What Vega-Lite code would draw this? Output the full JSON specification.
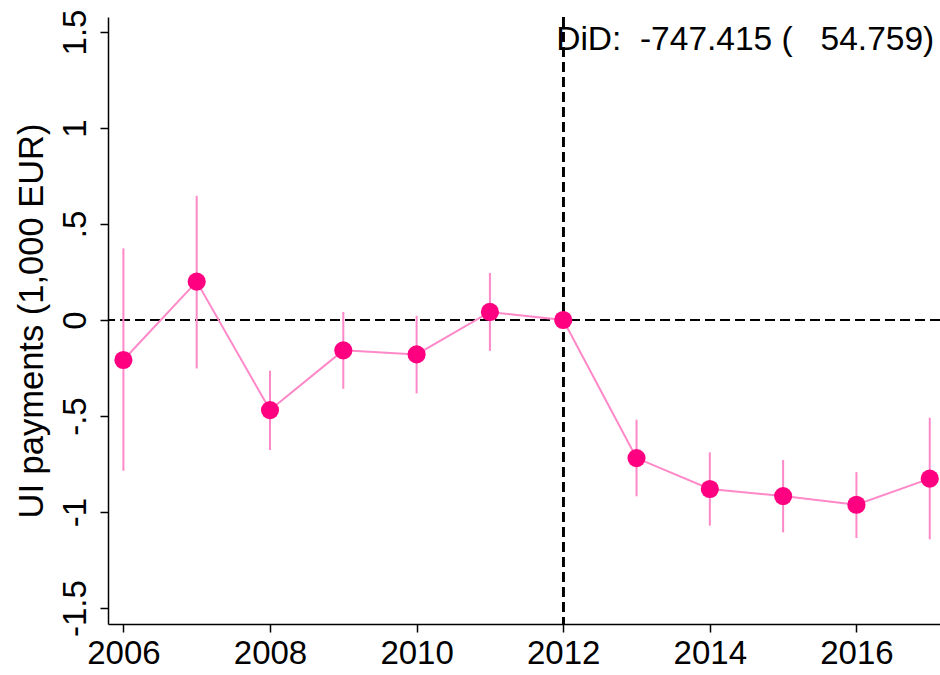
{
  "$schema": "https://vega.github.io/schema/vega-lite/v6.json",
  "width": 832,
  "height": 607,
  "autosize": {"type": "none"},
  "padding": {"left": 108, "top": 17, "right": 0, "bottom": 51},
  "background": "white",
  "config": {
    "view": {"stroke": null},
    "font": "Liberation Sans",
    "axis": {
      "grid": false,
      "domainColor": "black",
      "domainWidth": 1.5,
      "tickColor": "black",
      "tickWidth": 1.5,
      "tickSize": 8,
      "labelFont": "Liberation Sans",
      "labelFontSize": 33,
      "labelColor": "black",
      "titleFont": "Liberation Sans",
      "titleFontSize": 34.5,
      "titleFontWeight": "normal",
      "titleColor": "black"
    }
  },
  "data": {
    "values": [
      {"year": 2006, "est": -0.208, "lo": -0.785, "hi": 0.373},
      {"year": 2007, "est": 0.2, "lo": -0.252, "hi": 0.647},
      {"year": 2008, "est": -0.469, "lo": -0.677, "hi": -0.264},
      {"year": 2009, "est": -0.158, "lo": -0.358, "hi": 0.042},
      {"year": 2010, "est": -0.179, "lo": -0.382, "hi": 0.022},
      {"year": 2011, "est": 0.042, "lo": -0.161, "hi": 0.245},
      {"year": 2012, "est": 0, "lo": null, "hi": null},
      {"year": 2013, "est": -0.719, "lo": -0.918, "hi": -0.519},
      {"year": 2014, "est": -0.88, "lo": -1.071, "hi": -0.689},
      {"year": 2015, "est": -0.917, "lo": -1.106, "hi": -0.729},
      {"year": 2016, "est": -0.962, "lo": -1.135, "hi": -0.792},
      {"year": 2017, "est": -0.826, "lo": -1.142, "hi": -0.509}
    ]
  },
  "encoding": {
    "x": {
      "field": "year",
      "type": "quantitative",
      "scale": {"domain": [2005.79, 2017.14], "nice": false, "zero": false},
      "axis": {
        "title": null,
        "values": [2006, 2008, 2010, 2012, 2014, 2016],
        "format": "d",
        "labelPadding": 5,
        "labelFlush": false,
        "labelOverlap": false
      }
    }
  },
  "layer": [
    {
      "mark": {"type": "rule", "color": "black", "strokeWidth": 2, "strokeDash": [10, 5]},
      "encoding": {"y": {"datum": 0, "type": "quantitative"}, "x": null}
    },
    {
      "mark": {"type": "rule", "color": "black", "strokeWidth": 2, "strokeDash": [10, 5]},
      "encoding": {"x": {"datum": 2012, "type": "quantitative"}}
    },
    {
      "transform": [{"filter": "datum.lo != null"}],
      "mark": {"type": "rule", "color": "#ff88c8", "strokeWidth": 2},
      "encoding": {
        "y": {
          "field": "lo",
          "type": "quantitative",
          "scale": {"domain": [-1.583, 1.578], "nice": false, "zero": false},
          "axis": {
            "title": "UI payments (1,000 EUR)",
            "values": [-1.5, -1, -0.5, 0, 0.5, 1, 1.5],
            "labelExpr": "replace(toString(datum.value), '0.', '.')",
            "labelAngle": 270,
            "labelAlign": "center",
            "labelBaseline": "bottom",
            "labelPadding": 8,
            "labelFlush": false,
            "labelOverlap": false,
            "titlePadding": 10
          }
        },
        "y2": {"field": "hi"}
      }
    },
    {
      "mark": {"type": "line", "color": "#ff88c8", "strokeWidth": 2},
      "encoding": {"y": {"field": "est", "type": "quantitative"}}
    },
    {
      "mark": {"type": "point", "filled": true, "shape": "circle", "color": "#ff0080", "opacity": 1, "size": 330},
      "encoding": {"y": {"field": "est", "type": "quantitative"}}
    },
    {
      "data": {"values": [{"year": 2012, "ypos": 1.406, "label": "DiD:\u00a0 -747.415 (\u00a0\u00a0 54.759)"}]},
      "mark": {"type": "text", "align": "left", "baseline": "alphabetic", "dx": -7, "fontSize": 33.5, "font": "Liberation Sans", "color": "black"},
      "encoding": {
        "y": {"field": "ypos", "type": "quantitative"},
        "text": {"field": "label"}
      }
    }
  ]
}
